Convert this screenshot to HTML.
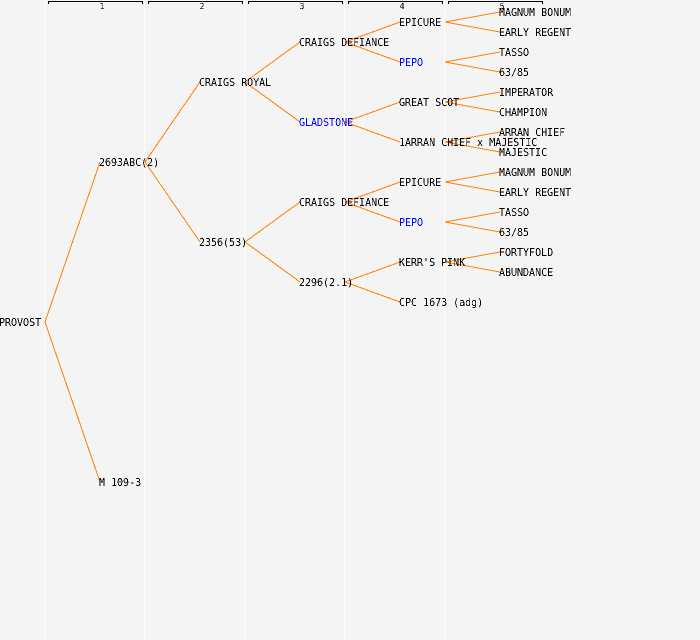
<!DOCTYPE html>
<html><head><meta charset="utf-8"><style>
html,body{margin:0;padding:0;background:#f4f4f4}
svg{display:block}
text{font-family:"DejaVu Sans Mono","Liberation Mono",monospace;font-size:11px;fill:#000}
.b{fill:#0000ff}
.n{font-size:8px;text-anchor:middle}
.o line{stroke:#ff8000;stroke-width:1}
.w line{stroke:#fff;stroke-width:1}
.k path{stroke:#000;fill:none;stroke-width:1}
</style></head><body>
<svg width="700" height="640" viewBox="0 0 700 640" xmlns="http://www.w3.org/2000/svg">
<defs><filter id="alias" x="0" y="0" width="700" height="640" filterUnits="userSpaceOnUse" color-interpolation-filters="sRGB"><feComponentTransfer><feFuncA type="discrete" tableValues="0 1"/></feComponentTransfer></filter></defs>
<rect width="700" height="640" fill="#f4f4f4"/>
<g class="w" shape-rendering="crispEdges">
<line x1="44.5" y1="0" x2="44.5" y2="640"/><line x1="144.5" y1="0" x2="144.5" y2="640"/><line x1="244.5" y1="0" x2="244.5" y2="640"/><line x1="344.5" y1="0" x2="344.5" y2="640"/><line x1="444.5" y1="0" x2="444.5" y2="640"/>
</g>
<g class="k" shape-rendering="crispEdges">
<path d="M48.500 4V1.500H142.500V4"/><path d="M148.500 4V1.500H242.500V4"/><path d="M248.500 4V1.500H342.500V4"/><path d="M348.500 4V1.500H442.500V4"/><path d="M448.500 4V1.500H542.500V4"/>
</g>
<g class="o" shape-rendering="crispEdges">
<line x1="45" y1="322" x2="100" y2="162"/><line x1="45" y1="322" x2="100" y2="482"/>
<line x1="145" y1="162" x2="200" y2="82"/><line x1="145" y1="162" x2="200" y2="242"/>
<line x1="245" y1="82" x2="300" y2="42"/><line x1="245" y1="82" x2="300" y2="122"/>
<line x1="245" y1="242" x2="300" y2="202"/><line x1="245" y1="242" x2="300" y2="282"/>
<line x1="345" y1="42" x2="400" y2="22"/><line x1="345" y1="42" x2="400" y2="62"/>
<line x1="345" y1="122" x2="400" y2="102"/><line x1="345" y1="122" x2="400" y2="142"/>
<line x1="345" y1="202" x2="400" y2="182"/><line x1="345" y1="202" x2="400" y2="222"/>
<line x1="345" y1="282" x2="400" y2="262"/><line x1="345" y1="282" x2="400" y2="302"/>
<line x1="445" y1="22" x2="500" y2="12"/><line x1="445" y1="22" x2="500" y2="32"/>
<line x1="445" y1="62" x2="500" y2="52"/><line x1="445" y1="62" x2="500" y2="72"/>
<line x1="445" y1="102" x2="500" y2="92"/><line x1="445" y1="102" x2="500" y2="112"/>
<line x1="445" y1="142" x2="500" y2="132"/><line x1="445" y1="142" x2="500" y2="152"/>
<line x1="445" y1="182" x2="500" y2="172"/><line x1="445" y1="182" x2="500" y2="192"/>
<line x1="445" y1="222" x2="500" y2="212"/><line x1="445" y1="222" x2="500" y2="232"/>
<line x1="445" y1="262" x2="500" y2="252"/><line x1="445" y1="262" x2="500" y2="272"/>
</g>
<g filter="url(#alias)">
<text class="n" x="102" y="9">1</text><text class="n" x="202" y="9">2</text><text class="n" x="302" y="9">3</text><text class="n" x="402" y="9">4</text><text class="n" x="502" y="9">5</text>
<g transform="scale(0.90909,1)">
<text x="-1.1" y="326">PROVOST</text>
<text x="108.9" y="166">2693ABC(2)</text>
<text x="108.9" y="486">M 109-3</text>
<text x="218.9" y="86">CRAIGS ROYAL</text>
<text x="218.9" y="246">2356(53)</text>
<text x="328.9" y="46">CRAIGS DEFIANCE</text>
<text x="328.9" y="126" class="b">GLADSTONE</text>
<text x="328.9" y="206">CRAIGS DEFIANCE</text>
<text x="328.9" y="286">2296(2.1)</text>
<text x="438.9" y="26">EPICURE</text>
<text x="438.9" y="66" class="b">PEPO</text>
<text x="438.9" y="106">GREAT SCOT</text>
<text x="438.9" y="146">1ARRAN CHIEF x MAJESTIC</text>
<text x="438.9" y="186">EPICURE</text>
<text x="438.9" y="226" class="b">PEPO</text>
<text x="438.9" y="266">KERR'S PINK</text>
<text x="438.9" y="306">CPC 1673 (adg)</text>
<text x="548.9" y="16">MAGNUM BONUM</text>
<text x="548.9" y="36">EARLY REGENT</text>
<text x="548.9" y="56">TASSO</text>
<text x="548.9" y="76">63/85</text>
<text x="548.9" y="96">IMPERATOR</text>
<text x="548.9" y="116">CHAMPION</text>
<text x="548.9" y="136">ARRAN CHIEF</text>
<text x="548.9" y="156">MAJESTIC</text>
<text x="548.9" y="176">MAGNUM BONUM</text>
<text x="548.9" y="196">EARLY REGENT</text>
<text x="548.9" y="216">TASSO</text>
<text x="548.9" y="236">63/85</text>
<text x="548.9" y="256">FORTYFOLD</text>
<text x="548.9" y="276">ABUNDANCE</text>
</g>
</g>
</svg>
</body></html>
